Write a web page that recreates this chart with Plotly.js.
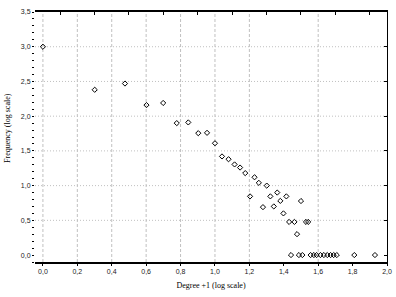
<!DOCTYPE html>
<html>
<head>
<meta charset="utf-8">
<script src="https://cdn.plot.ly/plotly-3.0.1.min.js"></script>
<style>html,body{margin:0;padding:0;background:#fff;}#chart{width:396px;height:297px;}</style>
</head>
<body>
<div id="chart"></div>
<script>
// Degree + 1 (log10) and frequency (log10)
const degreeLog = [0.000, 0.301, 0.477, 0.602, 0.699, 0.778, 0.845, 0.903, 0.954, 1.000,
  1.041, 1.079, 1.114, 1.146, 1.176, 1.204, 1.230, 1.255, 1.279, 1.301,
  1.322, 1.342, 1.362, 1.380, 1.398, 1.415, 1.431, 1.462, 1.477, 1.500,
  1.529, 1.542,
  1.442, 1.488, 1.508, 1.556, 1.575, 1.591, 1.613, 1.633, 1.653, 1.672, 1.690, 1.708, 1.810, 1.930];
const freqLog = [3.00, 2.38, 2.47, 2.16, 2.19, 1.90, 1.91, 1.755, 1.76, 1.61,
  1.42, 1.38, 1.305, 1.26, 1.18, 0.845, 1.12, 1.04, 0.69, 1.00,
  0.845, 0.70, 0.90, 0.78, 0.60, 0.845, 0.477, 0.477, 0.301, 0.778,
  0.477, 0.477,
  0, 0, 0, 0, 0, 0, 0, 0, 0, 0, 0, 0, 0, 0];
const xTickVals = [0, 0.2, 0.4, 0.6, 0.8, 1.0, 1.2, 1.4, 1.6, 1.8, 2.0];
const yTickVals = [0, 0.5, 1.0, 1.5, 2.0, 2.5, 3.0, 3.5];
const xGridVals = [0, 0.2, 0.4, 0.6, 0.8, 1.0, 1.2, 1.6];
const yGridVals = [0.5, 1.0, 1.5, 2.0, 2.5, 3.0];
const topMinorVals = [0.1, 0.3, 0.5, 0.7, 0.9, 1.1, 1.3, 1.5, 1.7, 1.9];
const xTitle = 'Degree +1 (log scale)';
const yTitle = 'Frequency (log scale)';

const xRange = [-0.046, 2.0];
const yRange = [-0.1, 3.5];

const shapes = [];
xGridVals.forEach(v => shapes.push({type:'line', xref:'x', yref:'paper', x0:v, x1:v, y0:0, y1:1,
  line:{color:'#c0c0c0', width:1, dash:'3px,2px'}, layer:'below'}));
yGridVals.forEach(v => shapes.push({type:'line', xref:'paper', yref:'y', x0:0, x1:1, y0:v, y1:v,
  line:{color:'#c0c0c0', width:1, dash:'1px,2px'}, layer:'below'}));

const data = [
  {x: degreeLog, y: freqLog, type:'scatter', mode:'markers',
   marker:{symbol:'diamond-open', size:4, color:'#000', line:{width:1, color:'#000'}},
   hoverinfo:'skip', showlegend:false},
  {x: [], y: [], xaxis:'x2', yaxis:'y2', type:'scatter', mode:'markers', showlegend:false}
];

const tickFont = {family:'Liberation Sans, Arial, sans-serif', size:7, color:'#222'};
const titleFont = {family:'Liberation Serif, Times New Roman, serif', size:8, color:'#000'};

const layout = {
  width:396, height:297,
  margin:{l:35, r:9, t:12, b:35},
  paper_bgcolor:'#fff', plot_bgcolor:'#fff',
  separators:', ',
  showlegend:false,
  xaxis:{range:xRange, tickvals:xTickVals, tickformat:'.1f', ticks:'outside', ticklen:2, tickcolor:'#000',
    showgrid:false, zeroline:false, showline:true, linecolor:'#000', linewidth:2,
    tickfont:tickFont, fixedrange:true,
    title:{text:xTitle, font:titleFont, standoff:8}},
  yaxis:{range:yRange, tickvals:yTickVals, tickformat:'.1f', ticks:'outside', ticklen:2, tickcolor:'#000',
    minor:{dtick:0.1, tick0:0, ticks:'outside', ticklen:2, tickcolor:'#000', showgrid:false},
    showgrid:false, zeroline:false, showline:false, tickfont:tickFont, fixedrange:true},
  xaxis2:{range:xRange, overlaying:'x', side:'top', anchor:'y', tickvals:topMinorVals, ticks:'inside', ticklen:3,
    tickcolor:'#000', showticklabels:false, showgrid:false, zeroline:false, showline:true, linecolor:'#000', linewidth:2},
  yaxis2:{range:yRange, overlaying:'y', side:'right', anchor:'x', tickvals:yTickVals, ticks:'inside', ticklen:3,
    tickcolor:'#000', showticklabels:false, showgrid:false, zeroline:false, showline:true, linecolor:'#000', linewidth:1},
  shapes:shapes,
  annotations:[{text:yTitle, xref:'paper', yref:'paper', x:-0.077, y:0.536, xanchor:'center', yanchor:'middle',
    textangle:-90, showarrow:false, font:titleFont}]
};

Plotly.newPlot('chart', data, layout, {displayModeBar:false, staticPlot:true});
</script>
</body>
</html>
